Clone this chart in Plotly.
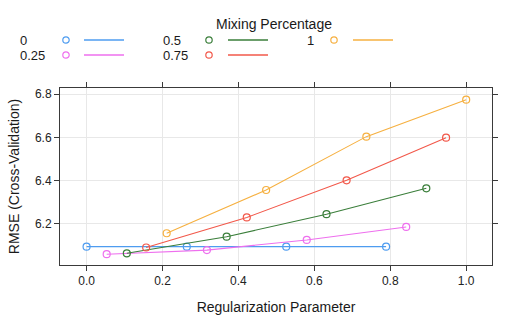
import plotly.graph_objects as go

mixing = ["0", "0.25", "0.5", "0.75", "1"]
colors = ["#4E9CF0", "#EE6FEE", "#3A7E3A", "#F2584A", "#F6B040"]

reg_0 = [0.000, 0.264, 0.526, 0.789]
rmse_0 = [6.095, 6.095, 6.095, 6.095]
reg_025 = [0.053, 0.317, 0.580, 0.842]
rmse_025 = [6.060, 6.079, 6.126, 6.186]
reg_05 = [0.106, 0.369, 0.632, 0.895]
rmse_05 = [6.064, 6.141, 6.245, 6.365]
reg_075 = [0.157, 0.422, 0.685, 0.947]
rmse_075 = [6.091, 6.230, 6.402, 6.599]
reg_1 = [0.211, 0.473, 0.737, 1.000]
rmse_1 = [6.157, 6.357, 6.604, 6.775]

xs = [reg_0, reg_025, reg_05, reg_075, reg_1]
ys = [rmse_0, rmse_025, rmse_05, rmse_075, rmse_1]

W, H = 527, 325
L, R, T, B = 60, 35, 88, 60
pw, ph = W - L - R, H - T - B

def px(x):
    return (x - L) / pw

def py(y):
    return (H - B - y) / ph

fig = go.Figure()
for name, c, x, y in zip(mixing, colors, xs, ys):
    fig.add_trace(go.Scatter(
        x=x, y=y, mode="lines+markers", name=name,
        line=dict(color=c, width=1.1),
        marker=dict(symbol="circle-open", size=7, color=c, line=dict(width=1.2)),
        showlegend=False,
    ))

font = "Liberation Sans, Arial, sans-serif"
anns = [dict(text="Mixing Percentage", x=px(274), y=py(24), xref="paper", yref="paper",
             showarrow=False, font=dict(size=14, color="#1a1a1a", family=font),
             xanchor="center", yanchor="middle")]
shapes = []
legend_pos = [
    (19, 40, 66, 84, 124),
    (19, 55, 66, 84, 124),
    (162, 40, 209, 228, 268),
    (162, 55, 209, 228, 268),
    (306, 40, 334, 353, 393),
]
for name, c, (tx, ty, mx, lx0, lx1) in zip(mixing, colors, legend_pos):
    anns.append(dict(text=name, x=px(tx), y=py(ty), xref="paper", yref="paper",
                     showarrow=False, font=dict(size=13, color="#1a1a1a", family=font),
                     xanchor="left", yanchor="middle", borderpad=0))
    shapes.append(dict(type="circle", xref="paper", yref="paper",
                       xsizemode="pixel", ysizemode="pixel",
                       xanchor=px(mx), yanchor=py(ty), x0=-3.2, x1=3.2, y0=-3.2, y1=3.2,
                       line=dict(color=c, width=1.2)))
    shapes.append(dict(type="line", xref="paper", yref="paper",
                       x0=px(lx0), x1=px(lx1), y0=py(ty), y1=py(ty),
                       line=dict(color=c, width=1.3)))

axis_common = dict(
    showline=True, linecolor="#3a3a3a", linewidth=1, mirror="ticks",
    ticks="outside", ticklen=5, tickcolor="#3a3a3a", tickwidth=1,
    showgrid=True, gridcolor="#e8e8e8", gridwidth=1, zeroline=False,
    tickfont=dict(size=12, color="#222", family=font),
)
fig.update_layout(
    width=W, height=H,
    margin=dict(l=L, r=R, t=T, b=B),
    paper_bgcolor="white", plot_bgcolor="white",
    font=dict(family=font),
    xaxis=dict(range=[-0.07, 1.068], tickvals=[0, 0.2, 0.4, 0.6, 0.8, 1.0],
               ticktext=["0.0", "0.2", "0.4", "0.6", "0.8", "1.0"],
               title=dict(text="Regularization Parameter", font=dict(size=14, color="#1a1a1a"), standoff=14),
               **axis_common),
    yaxis=dict(range=[6.01, 6.829], tickvals=[6.2, 6.4, 6.6, 6.8],
               ticktext=["6.2", "6.4", "6.6", "6.8"],
               title=dict(text="RMSE (Cross-Validation)", font=dict(size=14, color="#1a1a1a"), standoff=12),
               **axis_common),
    annotations=anns, shapes=shapes,
)
fig.write_html("out.html")
